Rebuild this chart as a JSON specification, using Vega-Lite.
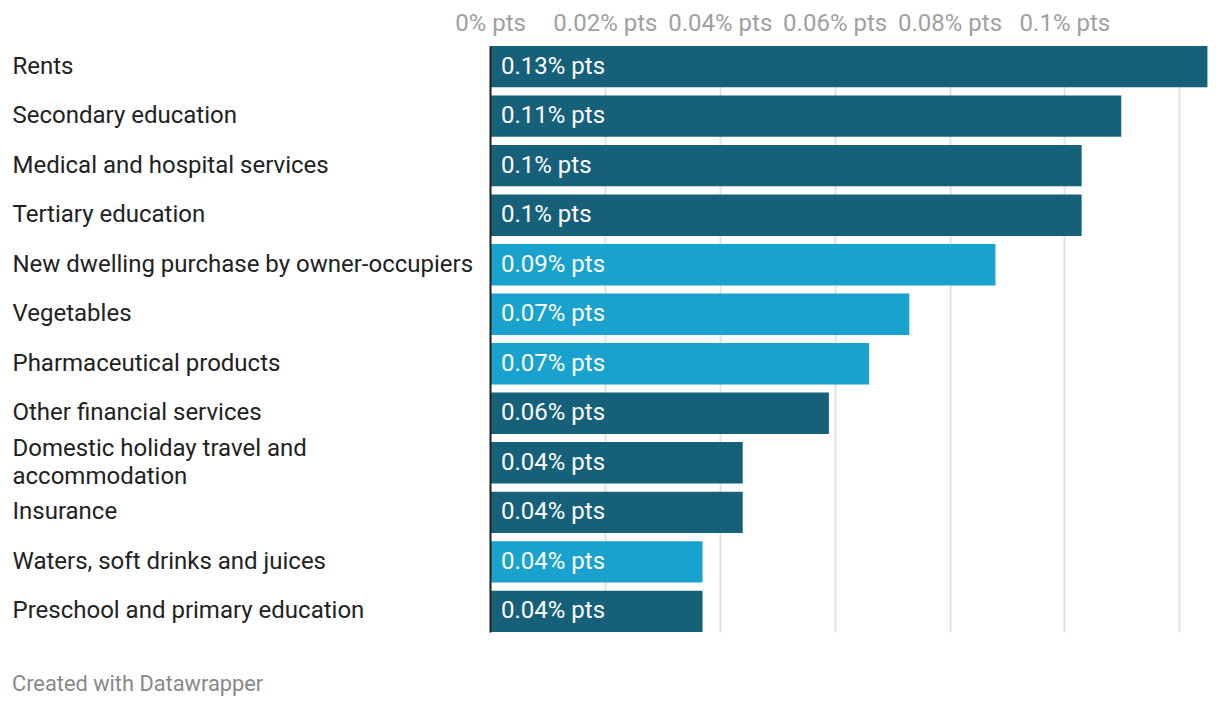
{
  "$schema": "https://vega.github.io/schema/vega-lite/v6.json",
  "autosize": "none",
  "width": 718,
  "height": 586,
  "padding": {"left": 490, "top": 46, "right": 12, "bottom": 76},
  "background": "white",
  "config": {
    "font": "Roboto",
    "view": {"stroke": null}
  },
  "title": {
    "text": "Created with Datawrapper",
    "orient": "bottom",
    "anchor": "start",
    "frame": "bounds",
    "fontSize": 21.8,
    "fontWeight": "normal",
    "color": "#888888",
    "font": "Roboto",
    "offset": 42
  },
  "data": {
    "values": [
      {"category": "Rents", "value": 0.1249, "label": "0.13% pts", "group": "dark"},
      {"category": "Secondary education", "value": 0.1099, "label": "0.11% pts", "group": "dark"},
      {"category": "Medical and hospital services", "value": 0.103, "label": "0.1% pts", "group": "dark"},
      {"category": "Tertiary education", "value": 0.103, "label": "0.1% pts", "group": "dark"},
      {"category": "New dwelling purchase by owner-occupiers", "value": 0.088, "label": "0.09% pts", "group": "light"},
      {"category": "Vegetables", "value": 0.073, "label": "0.07% pts", "group": "light"},
      {"category": "Pharmaceutical products", "value": 0.066, "label": "0.07% pts", "group": "light"},
      {"category": "Other financial services", "value": 0.059, "label": "0.06% pts", "group": "dark"},
      {"category": "Domestic holiday travel and accommodation", "value": 0.044, "label": "0.04% pts", "group": "dark"},
      {"category": "Insurance", "value": 0.044, "label": "0.04% pts", "group": "dark"},
      {"category": "Waters, soft drinks and juices", "value": 0.037, "label": "0.04% pts", "group": "light"},
      {"category": "Preschool and primary education", "value": 0.037, "label": "0.04% pts", "group": "dark"}
    ]
  },
  "encoding": {
    "y": {
      "field": "category",
      "type": "nominal",
      "sort": null,
      "scale": {"paddingInner": 0.165, "paddingOuter": 0},
      "axis": {
        "title": null,
        "orient": "left",
        "ticks": false,
        "tickSize": 0,
        "labelAlign": "left",
        "labelPadding": 478,
        "labelFontSize": 24,
        "labelColor": "#222222",
        "labelLimit": 480,
        "labelLineHeight": 28,
        "labelExpr": "datum.value == 'Domestic holiday travel and accommodation' ? ['Domestic holiday travel and', 'accommodation'] : datum.value",
        "labelOffset": {"condition": {"test": "datum.value == 'Domestic holiday travel and accommodation'", "value": -14}, "value": 0},
        "domain": true,
        "domainColor": "#222222",
        "domainWidth": 2,
        "grid": false,
        "zindex": 2
      }
    }
  },
  "layer": [
    {
      "mark": {"type": "bar"},
      "encoding": {
        "x": {
          "field": "value",
          "type": "quantitative",
          "scale": {"domain": [0, 0.125], "nice": false},
          "axis": {
            "orient": "top",
            "title": null,
            "values": [0, 0.02, 0.04, 0.06, 0.08, 0.1, 0.12],
            "labelExpr": "datum.value > 0.11 ? '' : format(datum.value, '.2~f') + '% pts'",
            "labelFontSize": 24,
            "labelColor": "#a0a0a0",
            "labelPadding": 11,
            "ticks": false,
            "tickSize": 0,
            "domain": false,
            "grid": true,
            "gridColor": "#e2e2e2",
            "gridWidth": 2,
            "labelFlush": false,
            "labelOverlap": false
          }
        },
        "color": {
          "field": "group",
          "type": "nominal",
          "scale": {"domain": ["dark", "light"], "range": ["#17607a", "#1aa2ce"]},
          "legend": null
        }
      }
    },
    {
      "mark": {"type": "text", "align": "left", "baseline": "middle", "dx": 11, "fontSize": 24, "color": "white", "font": "Roboto"},
      "encoding": {
        "x": {"datum": 0, "type": "quantitative"},
        "text": {"field": "label"}
      }
    }
  ]
}
